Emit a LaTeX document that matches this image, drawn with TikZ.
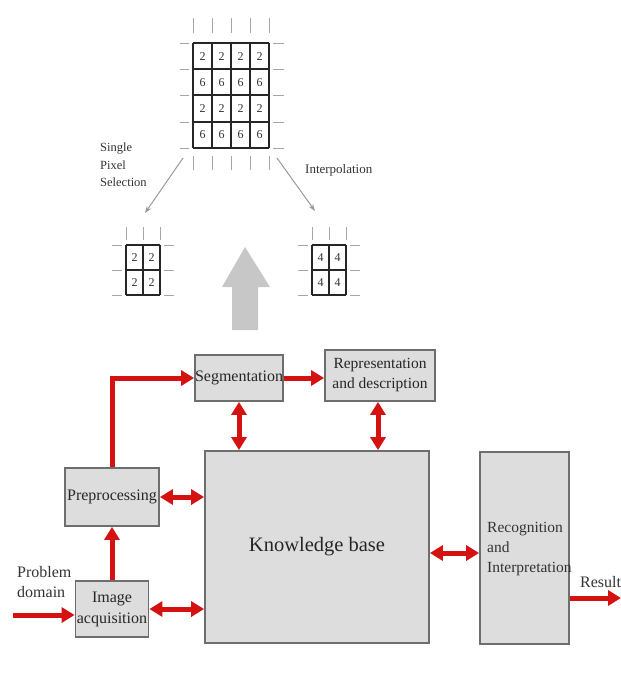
\documentclass[tikz,border=0pt]{standalone}
\usepackage{fontspec}
\setmainfont{Liberation Serif}
\usepackage{xcolor}
\usetikzlibrary{arrows.meta}

\definecolor{flowred}{RGB}{212,18,18}
\definecolor{boxfill}{RGB}{221,221,221}
\definecolor{boxline}{RGB}{110,110,110}

\begin{document}
\begin{tikzpicture}[x=1pt,y=-1pt,
    block/.style={draw=boxline,line width=1.8pt,fill=boxfill,text=black!85,
                  inner sep=0pt,align=center,font=\fontsize{16}{20}\selectfont},
    flow/.style={draw=flowred,line width=5pt,-{Triangle[length=13pt,width=15pt]}},
    twoway/.style={draw=flowred,line width=5pt,
                   {Triangle[length=13pt,width=15pt]}-{Triangle[length=13pt,width=15pt]}},
    cell/.style={line width=2pt,black!85},
    tick/.style={line width=0.8pt,black!35},
    digit/.style={font=\fontsize{12}{12}\selectfont,text=black!80,inner sep=0pt},
    thin/.style={draw=black!40,line width=1pt,-{Stealth[length=7pt,width=5pt]}},
    label/.style={text=black!80,align=left,inner sep=0pt}]
    \useasboundingbox (0,0) rectangle (621,675);

    % Original 4x4 pixel grid
    \foreach \x in {193,212,231,250,269} {
        \draw[tick] (\x,18) -- (\x,33);
        \draw[tick] (\x,156) -- (\x,170);
    }
    \foreach \y in {43,69,95,122,148} {
        \draw[tick] (180,\y) -- (189,\y);
        \draw[tick] (273,\y) -- (284,\y);
    }
    \foreach \x in {193,212,231,250,269}
        \draw[cell] (\x,43) -- (\x,148);
    \foreach \y in {43,69,95,122,148}
        \draw[cell] (193,\y) -- (269,\y);
    \foreach \r/\d in {1/2,2/6,3/2,4/6}
        \foreach \c in {1,...,4}
            \node[digit] (big\r\c) at ({174+19*\c+9.5},{43+26.25*\r-13.1}) {\d};

    % Single pixel selection grid
    \foreach \x in {126,143,160}
        \draw[tick] (\x,227) -- (\x,240);
    \foreach \y in {245,270,295} {
        \draw[tick] (112,\y) -- (122,\y);
        \draw[tick] (164,\y) -- (174,\y);
    }
    \foreach \x in {126,143,160}
        \draw[cell] (\x,245) -- (\x,295);
    \foreach \y in {245,270,295}
        \draw[cell] (126,\y) -- (160,\y);
    \foreach \r in {1,2}
        \foreach \c in {1,2}
            \node[digit] (sel\r\c) at ({109+17*\c+8.5},{245+25*\r-12.5}) {2};

    % Interpolation grid
    \foreach \x in {312,329,346}
        \draw[tick] (\x,227) -- (\x,240);
    \foreach \y in {245,270,295} {
        \draw[tick] (298,\y) -- (308,\y);
        \draw[tick] (350,\y) -- (360,\y);
    }
    \foreach \x in {312,329,346}
        \draw[cell] (\x,245) -- (\x,295);
    \foreach \y in {245,270,295}
        \draw[cell] (312,\y) -- (346,\y);
    \foreach \r in {1,2}
        \foreach \c in {1,2}
            \node[digit] (int\r\c) at ({295+17*\c+8.5},{245+25*\r-12.5}) {4};

    % Labels and thin arrows
    \node[label,anchor=west,font=\fontsize{12.5}{17.5}\selectfont] (single) at (100,165)
        {Single\\Pixel\\Selection};
    \node[label,anchor=west,font=\fontsize{13}{16}\selectfont] (interp) at (305,170)
        {Interpolation};
    \coordinate (selfrom) at (183,158);
    \coordinate (selto) at (145,213);
    \coordinate (intfrom) at (277,158);
    \coordinate (intto) at (315,211);
    \draw[thin] (selfrom) -- (selto);
    \draw[thin] (intfrom) -- (intto);

    % Big gray arrow
    \fill[black!22] (232,330) -- (232,287) -- (222,287) -- (245,247) -- (270,287)
        -- (258,287) -- (258,330) -- cycle;

    % Blocks
    \node[block,minimum width=88,minimum height=46] (seg) at (239,378) {Segmentation};
    \node[block,minimum width=110,minimum height=51,font=\fontsize{15.5}{20}\selectfont]
        (rep) at (380,375.5) {Representation\\and description};
    \node[block,minimum width=224,minimum height=192,font=\fontsize{20.5}{24}\selectfont]
        (kb) at (317,547) {Knowledge base};
    \node[block,minimum width=89,minimum height=192] (rec) at (524.5,548) {};
    \node[label,anchor=west,font=\fontsize{15.5}{20}\selectfont] (rectext) at (487,549)
        {Recognition\\and\\Interpretation};
    \node[block,minimum width=94,minimum height=58] (pre) at (112,497) {Preprocessing};
    \node[block,minimum width=73,minimum height=56,font=\fontsize{16}{21}\selectfont]
        (acq) at (112,609) {Image\\acquisition};

    % Outside texts
    \node[label,anchor=west,font=\fontsize{16}{20}\selectfont] (problem) at (17,582)
        {Problem\\domain};
    \node[label,anchor=west,font=\fontsize{16}{20}\selectfont] (result) at (580,582)
        {Result};
    \coordinate (pd) at (13,615);
    \coordinate (res) at (621,598);

    % Flow arrows
    \draw[flow] (pd) -- (pd -| acq.west);
    \draw[flow] (acq.north) -- (pre.south);
    \draw[flow] (pre.north) |- (seg.west);
    \draw[flow] (seg.east) -- (rep.west |- seg.east);
    \draw[flow] (rec.east |- res) -- (res);
    \draw[twoway] (seg.south) -- (seg.south |- kb.north);
    \draw[twoway] ([xshift=-2pt]rep.south) -- ([xshift=-2pt]rep.south |- kb.north);
    \draw[twoway] (pre.east) -- (pre.east -| kb.west);
    \draw[twoway] (acq.east) -- (acq.east -| kb.west);
    \draw[twoway] ([yshift=-6pt]kb.east) -- ([yshift=-6pt]kb.east -| rec.west);
\end{tikzpicture}
\end{document}
